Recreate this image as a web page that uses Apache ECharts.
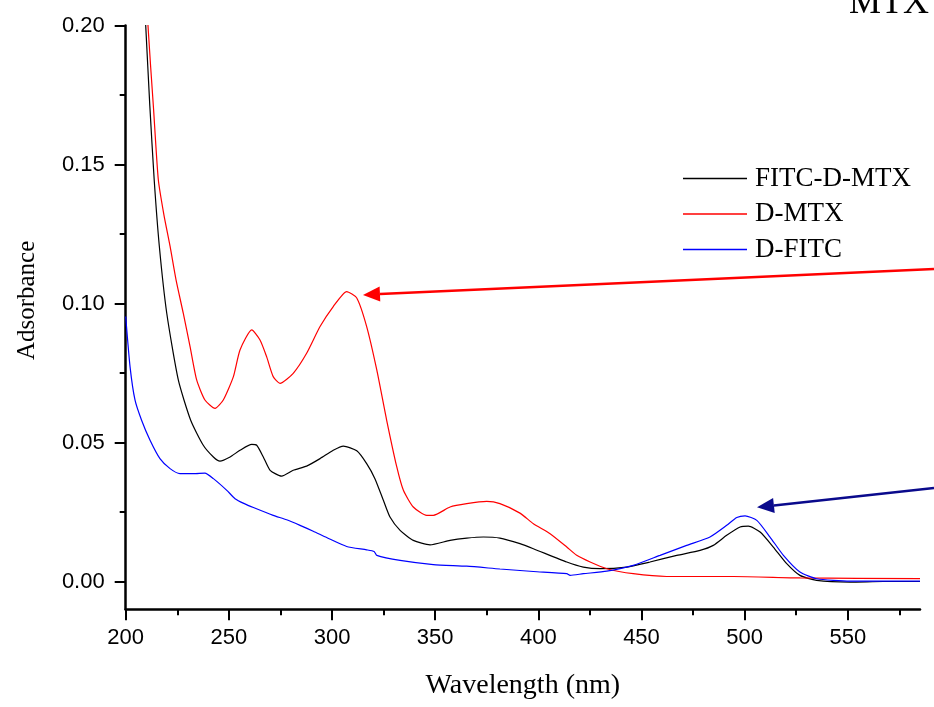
<!DOCTYPE html>
<html>
<head>
<meta charset="utf-8">
<script src="https://cdn.jsdelivr.net/npm/echarts@6/dist/echarts.min.js"></script>
<style>
  html, body { margin: 0; padding: 0; background: #fff; }
  #chart { width: 934px; height: 707px; }
</style>
</head>
<body>
<div id="chart"></div>
<script>
// tick labels
var xTicks = [200, 250, 300, 350, 400, 450, 500, 550];
var xMinorTicks = [225, 275, 325, 375, 425, 475, 525, 575];
var yTicks = [0, 0.05, 0.1, 0.15, 0.2];
var yMinorTicks = [0.025, 0.075, 0.125, 0.175];

// FITC-D-MTX (black)
var fdmWave = [207, 209.7, 211.7, 213.8, 216.3, 219.9, 225.5, 231.5, 237.6, 242.5, 245.7, 250.6, 255.4, 261.1, 263.5,
  266.7, 270, 275.6, 281.2, 287.7, 294.2, 300.6, 305.5, 312, 316.8, 320.8, 324.9, 328.1, 333, 339.4, 347.5,
  357.2, 365.3, 373.4, 381.4, 391.1, 397.6, 413.8, 421.8, 429.9, 442.8, 454.1, 467.1, 478.4, 484.8, 491.3,
  497.8, 501.8, 507.5, 513.9, 520.4, 526.8, 534.9, 551.1, 567.2, 585];
var fdmAbs = [0.24, 0.2, 0.171, 0.1446, 0.1206, 0.0965, 0.0725, 0.058, 0.049, 0.0448, 0.0433, 0.0448, 0.0472, 0.0493, 0.049,
  0.0448, 0.04, 0.0379, 0.04, 0.0415, 0.0442, 0.0472, 0.0487, 0.047, 0.0424, 0.037, 0.0292, 0.0232, 0.0184, 0.0148, 0.0132,
  0.0148, 0.0156, 0.016, 0.0156, 0.0136, 0.0118, 0.007, 0.0052, 0.0046, 0.0052, 0.007, 0.0094, 0.0112, 0.013, 0.0166,
  0.0196, 0.0199, 0.0178, 0.0124, 0.0064, 0.0022, 0.0004, -0.0002, 0, 0];

// D-MTX (red)
var dmtxWave = [208.5, 210.8, 213.5, 215.8, 218.5, 221.5, 224.4, 227.9, 231.2, 234.4, 238.4, 243.3, 247.3, 252.2, 255.4, 261.1,
  265.1, 268.3, 271.5, 274.8, 281.2, 287.7, 294.2, 300.6, 307.1, 312, 316.8, 321.7, 326.5, 331.4, 334.6, 339.4,
  345.9, 349.1, 357.2, 365.3, 375, 381.4, 391.1, 397.6, 405.7, 413.8, 418.6, 425.1, 433.2, 446, 462.2, 494.5,
  526.8, 585];
var dmtxAbs = [0.24, 0.2, 0.17, 0.1446, 0.132, 0.1206, 0.1085, 0.0965, 0.0845, 0.0725, 0.0653, 0.0623, 0.0653, 0.0737, 0.0833, 0.0905,
  0.0869, 0.0809, 0.0737, 0.0713, 0.0749, 0.0821, 0.0917, 0.0989, 0.1043, 0.102, 0.0917, 0.0761, 0.058, 0.0412, 0.0328, 0.0268,
  0.0238, 0.0238, 0.0268, 0.028, 0.0288, 0.028, 0.0246, 0.0208, 0.0172, 0.0124, 0.0094, 0.007, 0.0046, 0.0028, 0.0018, 0.0018,
  0.0013, 0.001];

// D-FITC (blue)
var dfitcWave = [200, 202.1, 204.5, 207.7, 211.8, 216.6, 221.5, 226.3, 232.8, 238.4, 242.5, 249, 253, 257.5, 261.9,
  271.5, 278, 284.5, 290.9, 297.4, 307.1, 316.8, 320.4, 321.7, 333, 349.1, 365.3, 381.4, 397.6, 413.8, 415.4,
  421.8, 433.2, 446, 459, 471.9, 483.2, 491.3, 496.2, 500.2, 505.9, 512.3, 518.8, 526.8, 534.9, 551.1, 585];
var dfitcAbs = [0.0953, 0.0773, 0.0653, 0.058, 0.0508, 0.0442, 0.0406, 0.0388, 0.0388, 0.039, 0.037, 0.0328, 0.0298, 0.028, 0.0266,
  0.0238, 0.0222, 0.0202, 0.0181, 0.0158, 0.0126, 0.0114, 0.0108, 0.0094, 0.0076, 0.0061, 0.0055, 0.0045, 0.0036, 0.0028, 0.0022,
  0.0028, 0.0037, 0.0058, 0.0094, 0.013, 0.016, 0.0202, 0.023, 0.0236, 0.022, 0.016, 0.0094, 0.0034, 0.001, 0.0001, 0.0001];

function pairs(xs, ys) {
  var out = [];
  for (var i = 0; i < xs.length; i++) out.push([xs[i], ys[i]]);
  return out;
}

var serif = '"Liberation Serif", "Times New Roman", serif';
var sans = '"Liberation Sans", Arial, sans-serif';

var lineSeries = function (name, color, data) {
  return {
    name: name,
    type: 'line',
    symbol: 'none',
    smooth: 0.2,
    clip: true,
    lineStyle: { color: color, width: 1.2 },
    itemStyle: { color: color },
    data: data,
  };
};

var option = {
  animation: false,
  backgroundColor: '#fff',
  grid: { left: 125.7, right: 14, top: 25.5, bottom: 97.7, containLabel: false },
  legend: {
    orient: 'vertical',
    left: 683,
    top: 165,
    padding: 0,
    icon: 'rect',
    itemWidth: 64,
    itemHeight: 1.5,
    itemGap: 8.5,
    textStyle: { fontFamily: serif, fontSize: 27, color: '#000', padding: [0, 0, 0, 3] },
    data: ['FITC-D-MTX', 'D-MTX', 'D-FITC'],
  },
  xAxis: [
    {
      type: 'value',
      min: 200,
      max: 585,
      name: 'Wavelength (nm)',
      nameLocation: 'middle',
      nameGap: 62,
      nameTextStyle: { fontFamily: serif, fontSize: 28, color: '#000' },
      axisLine: { show: true, onZero: false, lineStyle: { color: '#000', width: 2.5 } },
      axisTick: { show: true, inside: false, length: 11, customValues: xTicks, lineStyle: { color: '#000', width: 2 } },
      axisLabel: { customValues: xTicks, margin: 18, fontFamily: sans, fontSize: 22, color: '#000' },
      splitLine: { show: false },
    },
    {
      type: 'value',
      min: 200,
      max: 585,
      position: 'bottom',
      axisLine: { show: false, onZero: false },
      axisTick: { show: true, inside: false, length: 6, customValues: xMinorTicks, lineStyle: { color: '#000', width: 2 } },
      axisLabel: { show: false },
      splitLine: { show: false },
    },
  ],
  yAxis: [
    {
      type: 'value',
      min: -0.01,
      max: 0.2,
      name: 'Adsorbance',
      nameLocation: 'middle',
      nameGap: 86,
      nameTextStyle: { fontFamily: serif, fontSize: 25, color: '#000', padding: [0, 0, 0, 34] },
      axisLine: { show: true, onZero: false, lineStyle: { color: '#000', width: 2.5 } },
      axisTick: { show: true, inside: false, length: 11, customValues: yTicks, lineStyle: { color: '#000', width: 2 } },
      axisLabel: {
        customValues: yTicks,
        margin: 21,
        fontFamily: sans,
        fontSize: 22,
        color: '#000',
        formatter: function (v) { return v.toFixed(2); },
      },
      splitLine: { show: false },
    },
    {
      type: 'value',
      min: -0.01,
      max: 0.2,
      position: 'left',
      axisLine: { show: false, onZero: false },
      axisTick: { show: true, inside: false, length: 6, customValues: yMinorTicks, lineStyle: { color: '#000', width: 2 } },
      axisLabel: { show: false },
      splitLine: { show: false },
    },
  ],
  series: [
    lineSeries('FITC-D-MTX', '#000000', pairs(fdmWave, fdmAbs)),
    lineSeries('D-MTX', '#ff0000', pairs(dmtxWave, dmtxAbs)),
    lineSeries('D-FITC', '#0000ff', pairs(dfitcWave, dfitcAbs)),
  ],
};

var chart = echarts.init(document.getElementById('chart'), null, { renderer: 'canvas' });
chart.setOption(option);

// annotation arrows pointing at the D-MTX and D-FITC peaks
function arrow(tip, tail, color, width) {
  var dx = tail[0] - tip[0], dy = tail[1] - tip[1];
  var len = Math.sqrt(dx * dx + dy * dy);
  var ux = dx / len, uy = dy / len;
  var hl = 17, hw = 7.5;
  var bx = tip[0] + ux * hl, by = tip[1] + uy * hl;
  return [
    {
      type: 'line',
      shape: { x1: bx, y1: by, x2: tail[0], y2: tail[1] },
      style: { stroke: color, lineWidth: width },
    },
    {
      type: 'polygon',
      shape: { points: [tip, [bx - uy * hw, by + ux * hw], [bx + uy * hw, by - ux * hw]] },
      style: { fill: color },
    },
  ];
}

var redTip = chart.convertToPixel({ xAxisIndex: 0, yAxisIndex: 0 }, [315, 0.1031]);
var blueTip = chart.convertToPixel({ xAxisIndex: 0, yAxisIndex: 0 }, [506, 0.0267]);

chart.setOption({
  graphic: arrow(redTip, [934, 269], '#ff0000', 2.5)
    .concat(arrow(blueTip, [934, 488], '#0a0a8c', 2.5))
    .concat([
      {
        type: 'text',
        left: 849,
        top: -14,
        style: { text: 'MTX', font: '36px ' + serif, fill: '#000' },
      },
    ]),
});
</script>
</body>
</html>
